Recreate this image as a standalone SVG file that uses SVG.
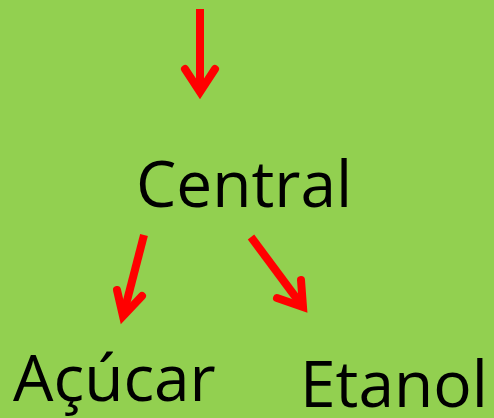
<svg xmlns="http://www.w3.org/2000/svg" width="494" height="418" viewBox="0 0 494 418">
<style>
.lbl{font-family:"Open Sans","Noto Sans",sans-serif;font-size:64px;fill:#000}
.shaft{stroke:#ff0000;stroke-width:8;fill:none;stroke-linecap:butt}
.head{stroke:#ff0000;stroke-width:8;fill:none;stroke-linecap:round;stroke-linejoin:miter;stroke-miterlimit:10}
</style>
<rect x="0" y="0" width="494" height="418" fill="#92d050"/>
<g id="connectors">
<g id="arrow-top">
<line class="shaft" x1="200" y1="9" x2="200" y2="92"/>
<polyline class="head" points="185,69 200,92 215,69"/>
</g>
<g id="arrow-left">
<line class="shaft" x1="144" y1="235" x2="123" y2="316"/>
<polyline class="head" points="117,290 123,316 142,296"/>
</g>
<g id="arrow-right">
<line class="shaft" x1="251" y1="237" x2="303" y2="307"/>
<polyline class="head" points="301,280 303,307 277,298"/>
</g>
</g>
<g id="node-central"><text class="lbl" x="136" y="207">Central</text></g>
<g id="node-acucar"><text class="lbl" x="13" y="401">Açúcar</text></g>
<g id="node-etanol"><text class="lbl" x="300" y="407">Etanol</text></g>
</svg>
